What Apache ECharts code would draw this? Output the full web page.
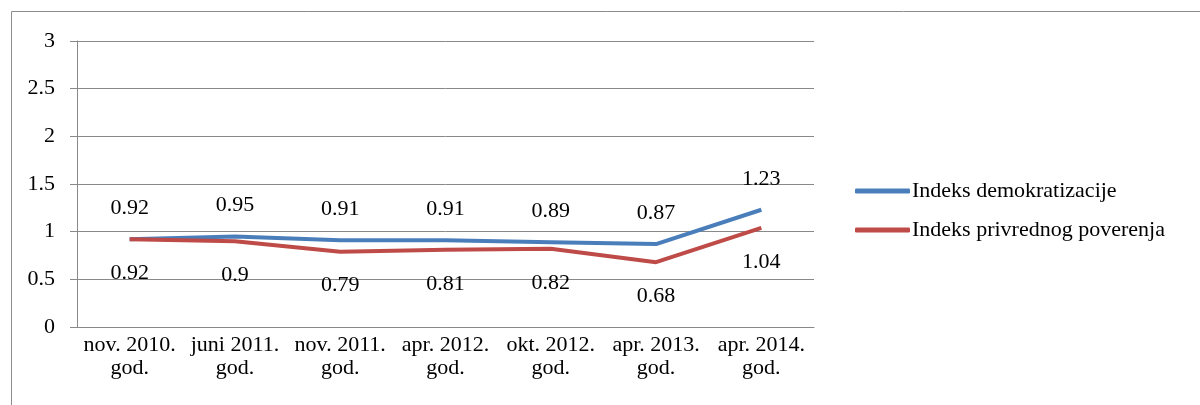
<!DOCTYPE html>
<html>
<head>
<meta charset="utf-8">
<script src="https://cdn.jsdelivr.net/npm/echarts@6/dist/echarts.min.js"></script>
<style>
html, body { margin: 0; padding: 0; background: #fff; }
#chart { width: 1200px; height: 405px; }
</style>
</head>
<body>
<div id="chart"></div>
<script>
const categories = ['nov. 2010.\ngod.', 'juni 2011.\ngod.', 'nov. 2011.\ngod.', 'apr. 2012.\ngod.', 'okt. 2012.\ngod.', 'apr. 2013.\ngod.', 'apr. 2014.\ngod.'];
const demokratizacija = [0.92, 0.95, 0.91, 0.91, 0.89, 0.87, 1.23];
const privrednoPoverenje = [0.92, 0.9, 0.79, 0.81, 0.82, 0.68, 1.04];
const yTicks = { min: 0, max: 3, interval: 0.5 };

const font = 'Liberation Serif';
const gridColor = '#898989';

const chart = echarts.init(document.getElementById('chart'));

chart.setOption({
  animation: false,
  textStyle: { fontFamily: font },
  graphic: [{
    type: 'rect',
    shape: { x: 11.5, y: 11.5, width: 1400, height: 600 },
    style: { fill: 'none', stroke: '#8c8c8c', lineWidth: 1 },
    silent: true
  }],
  grid: { left: 77, right: 386, top: 41, bottom: 78 },
  legend: {
    orient: 'vertical',
    left: 855,
    top: 180,
    padding: 0,
    itemWidth: 55,
    itemHeight: 5,
    itemGap: 17,
    icon: 'roundRect',
    textStyle: { fontFamily: font, fontSize: 22, color: '#000', padding: [0, 0, 0, -3] },
    data: ['Indeks demokratizacije', 'Indeks privrednog poverenja']
  },
  xAxis: {
    type: 'category',
    data: categories,
    boundaryGap: true,
    axisLine: { lineStyle: { color: gridColor, width: 1 } },
    axisTick: { length: 6, lineStyle: { color: gridColor } },
    axisLabel: { color: '#000', fontFamily: font, fontSize: 22, lineHeight: 23, margin: 7, interval: 0 }
  },
  yAxis: {
    type: 'value',
    min: yTicks.min,
    max: yTicks.max,
    interval: yTicks.interval,
    axisLine: { show: true, lineStyle: { color: gridColor, width: 1 } },
    axisTick: { show: true, length: 7, lineStyle: { color: gridColor } },
    axisLabel: { color: '#000', fontFamily: font, fontSize: 22, margin: 22 },
    splitLine: { lineStyle: { color: gridColor, width: 1 } }
  },
  series: [
    {
      name: 'Indeks demokratizacije',
      type: 'line',
      data: demokratizacija,
      symbol: 'circle',
      symbolSize: 0,
      itemStyle: { color: '#4a7ebb' },
      lineStyle: { color: '#4a7ebb', width: 4 },
      label: { show: true, position: 'top', distance: 20, color: '#000', fontFamily: font, fontSize: 22 }
    },
    {
      name: 'Indeks privrednog poverenja',
      type: 'line',
      data: privrednoPoverenje,
      symbol: 'circle',
      symbolSize: 0,
      itemStyle: { color: '#be4b48' },
      lineStyle: { color: '#be4b48', width: 4 },
      label: { show: true, position: 'bottom', distance: 23, color: '#000', fontFamily: font, fontSize: 22 }
    }
  ]
});
</script>
</body>
</html>
